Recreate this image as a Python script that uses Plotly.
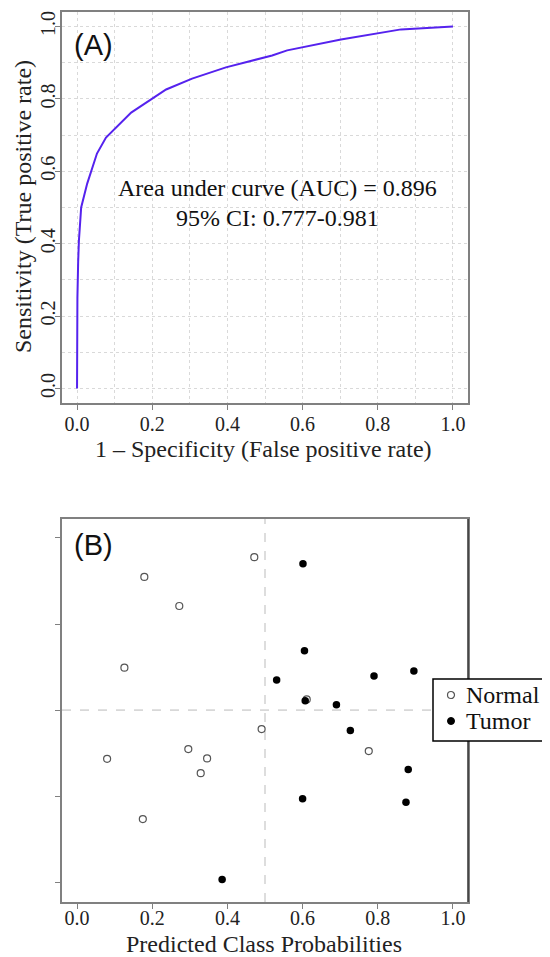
import plotly.graph_objects as go

# ---------- data ----------
roc_fpr = [0.0, 0.0, 0.001, 0.003, 0.005, 0.011, 0.027, 0.053, 0.077, 0.144, 0.237,
           0.306, 0.396, 0.519, 0.559, 0.702, 0.862, 1.0]
roc_tpr = [0.0, 0.1, 0.25, 0.35, 0.409, 0.5, 0.566, 0.649, 0.693, 0.762, 0.826,
           0.856, 0.887, 0.920, 0.934, 0.964, 0.992, 1.0]

normal_prob = [0.4715, 0.179, 0.272, 0.126, 0.491, 0.080, 0.296, 0.346, 0.329, 0.175, 0.611, 0.776]
normal_y = [1.776, 1.547, 1.209, 0.492, -0.221, -0.566, -0.453, -0.562, -0.733, -1.267, 0.124, -0.477]

tumor_prob = [0.531, 0.601, 0.605, 0.790, 0.896, 0.386, 0.607, 0.690, 0.727, 0.881, 0.600, 0.875]
tumor_y = [0.349, 1.701, 0.690, 0.395, 0.453, -1.969, 0.108, 0.062, -0.236, -0.690, -1.031, -1.070]

x_ticks = [0.0, 0.2, 0.4, 0.6, 0.8, 1.0]
x_tick_labels = ["0.0", "0.2", "0.4", "0.6", "0.8", "1.0"]
b_y_ticks = [-2, -1, 0, 1, 2]
cutoff_x = 0.5
cutoff_y = 0.0

auc_text = "Area under curve (AUC) = 0.896"
ci_text = "95% CI: 0.777-0.981"
legend_names = ["Normal", "Tumor"]

SERIF = "Liberation Serif"
SANS = "Liberation Sans"
OFF = 8                      # page body margin
W, H = 550 - OFF, 957 - OFF


def px(v):
    return (v - OFF) / W


def py(v):
    return 1 - (v - OFF) / H


NORMAL_COLOR = "#555555"

fig = go.Figure()

fig.add_trace(go.Scatter(x=roc_fpr, y=roc_tpr, mode="lines",
                         line=dict(color="#5522EE", width=2),
                         showlegend=False, xaxis="x", yaxis="y"))

fig.add_trace(go.Scatter(x=normal_prob, y=normal_y, mode="markers", name=legend_names[0],
                         marker=dict(symbol="circle-open", size=7, color=NORMAL_COLOR,
                                     line=dict(width=1.2, color=NORMAL_COLOR)),
                         showlegend=False, xaxis="x2", yaxis="y2"))
fig.add_trace(go.Scatter(x=tumor_prob, y=tumor_y, mode="markers", name=legend_names[1],
                         marker=dict(symbol="circle", size=7.5, color="black"),
                         showlegend=False, xaxis="x2", yaxis="y2"))

xdom = [px(62), px(468)]
ydomA = [py(403), py(12)]
ydomB = [py(902), py(519)]

axis_common = dict(showline=True, mirror=True, linecolor="#808080", linewidth=1.5,
                   ticks="outside", ticklen=5, tickcolor="#808080", zeroline=False,
                   tickfont=dict(family=SERIF, size=20, color="#222"))
title_font = dict(family=SERIF, size=24, color="#222")

fig.update_layout(
    width=W, height=H, margin=dict(l=0, r=0, t=0, b=0),
    paper_bgcolor="white", plot_bgcolor="white",
    showlegend=False,
    xaxis=dict(domain=xdom, anchor="y", range=[-0.04, 1.04],
               tickvals=x_ticks, ticktext=x_tick_labels, ticklabelstandoff=-3,
               showgrid=True, gridcolor="#d9d9d9", griddash="dot", gridwidth=1,
               minor=dict(dtick=0.1, tick0=0, showgrid=True, gridcolor="#d9d9d9", griddash="dot"),
               **axis_common),
    yaxis=dict(domain=ydomA, anchor="x", range=[-0.04, 1.04],
               tickvals=x_ticks, ticktext=x_tick_labels, tickangle=-90,
               ticklabelstandoff=-8,
               showgrid=True, gridcolor="#d9d9d9", griddash="dot", gridwidth=1,
               minor=dict(dtick=0.1, tick0=0, showgrid=True, gridcolor="#d9d9d9", griddash="dot"),
               **axis_common),
    xaxis2=dict(domain=xdom, anchor="y2", range=[-0.04, 1.04],
                tickvals=x_ticks, ticktext=x_tick_labels, showgrid=False,
                ticklabelstandoff=-8,
                **axis_common),
    yaxis2=dict(domain=ydomB, anchor="x2", range=[-2.23, 2.22],
                tickvals=b_y_ticks, showticklabels=False, showgrid=False,
                **axis_common),
)

# axis titles
fig.add_annotation(x=px(263), y=py(449), xref="paper", yref="paper",
                   xanchor="center", yanchor="middle",
                   text="1 – Specificity (False positive rate)", showarrow=False,
                   font=title_font)
fig.add_annotation(x=px(23), y=py(207), xref="paper", yref="paper",
                   xanchor="center", yanchor="middle",
                   text="Sensitivity (True positive rate)", showarrow=False,
                   textangle=-90, font=title_font)
fig.add_annotation(x=px(264), y=py(944), xref="paper", yref="paper",
                   xanchor="center", yanchor="middle",
                   text="Predicted Class Probabilities", showarrow=False,
                   font=title_font)

# reference lines in panel B
fig.add_shape(type="line", xref="x2", yref="paper", x0=cutoff_x, x1=cutoff_x,
              y0=ydomB[0], y1=ydomB[1], line=dict(color="#bbbbbb", width=1, dash="dash"),
              layer="below")
fig.add_shape(type="line", xref="paper", yref="y2", x0=xdom[0], x1=xdom[1],
              y0=cutoff_y, y1=cutoff_y, line=dict(color="#bbbbbb", width=1, dash="dash"),
              layer="below")
# darker right border in panel B
fig.add_shape(type="line", xref="paper", yref="paper", x0=xdom[1], x1=xdom[1],
              y0=ydomB[0], y1=ydomB[1], line=dict(color="#333333", width=1.5))

# legend box (extends past the right edge like the original)
fig.add_shape(type="rect", xref="paper", yref="paper", x0=px(433), x1=px(575),
              y0=py(741), y1=py(679), line=dict(color="black", width=1.5),
              fillcolor="white")
fig.add_shape(type="circle", xref="paper", yref="paper", x0=px(447.5), x1=px(454.5),
              y0=py(698.5), y1=py(691.5), line=dict(color=NORMAL_COLOR, width=1.2))
fig.add_shape(type="circle", xref="paper", yref="paper", x0=px(447.5), x1=px(454.5),
              y0=py(724.5), y1=py(717.5), line=dict(color="black", width=1),
              fillcolor="black")
fig.add_annotation(x=px(464), y=py(695), xref="paper", yref="paper", text=legend_names[0],
                   showarrow=False, xanchor="left", yanchor="middle",
                   font=dict(family=SERIF, size=24, color="#111"))
fig.add_annotation(x=px(464), y=py(721), xref="paper", yref="paper", text=legend_names[1],
                   showarrow=False, xanchor="left", yanchor="middle",
                   font=dict(family=SERIF, size=24, color="#111"))

# in-panel texts
fig.add_annotation(x=0.532, y=0.555, xref="x", yref="y", text=auc_text, showarrow=False,
                   font=dict(family=SERIF, size=24, color="#111"))
fig.add_annotation(x=0.532, y=0.472, xref="x", yref="y", text=ci_text, showarrow=False,
                   font=dict(family=SERIF, size=24, color="#111"))
fig.add_annotation(x=px(72), y=py(45), xref="paper", yref="paper", text="(A)",
                   showarrow=False, xanchor="left", yanchor="middle",
                   font=dict(family=SANS, size=29, color="#111"))
fig.add_annotation(x=px(72), y=py(545), xref="paper", yref="paper", text="(B)",
                   showarrow=False, xanchor="left", yanchor="middle",
                   font=dict(family=SANS, size=29, color="#111"))

fig.write_html("out.html")
